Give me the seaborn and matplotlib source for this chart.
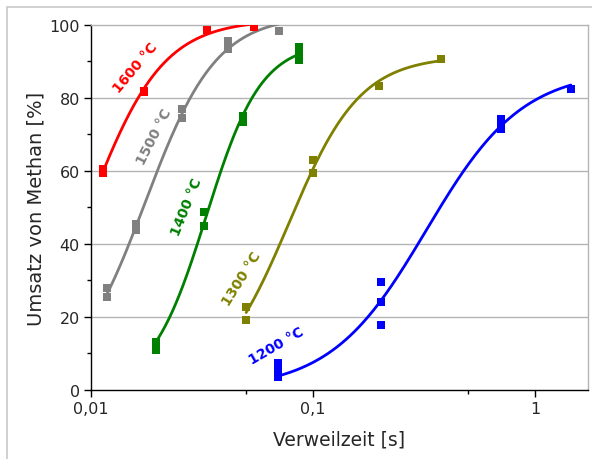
import numpy as np
import pandas as pd
import matplotlib
matplotlib.use("Agg")
import matplotlib.pyplot as plt
import matplotlib.ticker as mticker
from matplotlib.patches import Rectangle
import seaborn as sns

# ---------------------------
# Data
# ---------------------------
series_names = ["1600 °C", "1500 °C", "1400 °C", "1300 °C", "1200 °C"]

t1600 = [0.0113, 0.0113, 0.0173, 0.0333, 0.0542]
u1600 = [59.5, 60.5, 81.8, 98.6, 99.4]

t1500 = [0.0118, 0.0118, 0.016, 0.016, 0.0257, 0.0257, 0.0414, 0.0414, 0.0703]
u1500 = [25.5, 28.0, 43.8, 45.5, 74.5, 77.0, 93.5, 95.5, 98.4]

t1400 = [0.0196, 0.0196, 0.0323, 0.0323, 0.0484, 0.0484, 0.0865, 0.0865, 0.0865]
u1400 = [11.0, 13.0, 45.0, 48.8, 73.5, 75.0, 90.5, 92.5, 94.0]

t1300 = [0.05, 0.05, 0.1, 0.1, 0.198, 0.377]
u1300 = [19.2, 22.7, 59.5, 63.0, 83.3, 90.7]

t1200 = [0.0695, 0.0695, 0.0695, 0.202, 0.202, 0.202, 0.703, 0.703, 0.703, 1.45]
u1200 = [3.5, 5.2, 7.3, 17.8, 24.1, 29.6, 71.5, 73.0, 74.2, 82.5]

colors = ["#ff0000", "#808080", "#008000", "#808000", "#0000ff"]

# label positions (x, y, angle) for the curve names
label_pos = [(0.0158, 88.5, 50), (0.0192, 69.6, 63), (0.0271, 50.4, 68),
             (0.0479, 30.7, 58), (0.0681, 12.3, 30)]

rows = []
for name, t, u in zip(series_names, [t1600, t1500, t1400, t1300, t1200],
                      [u1600, u1500, u1400, u1300, u1200]):
    for a, b in zip(t, u):
        rows.append({"T": name, "t": a, "U": b})
df = pd.DataFrame(rows)


def logistic_fit(x, y):
    # simple grid search for y = A / (1 + exp(-(log10 x - u0)/s))
    lx = np.log10(x)
    y = np.asarray(y, dtype=float)
    best = None
    for u0 in np.linspace(lx.min() - 1.0, lx.max() + 0.5, 300):
        for s in np.linspace(0.05, 0.6, 120):
            f = 1.0 / (1.0 + np.exp(-(lx - u0) / s))
            A = np.sum(y * f) / np.sum(f * f)
            err = np.sum((A * f - y) ** 2)
            if best is None or err < best[0]:
                best = (err, A, u0, s)
    return best[1:]


# ---------------------------
# Plot
# ---------------------------
sns.set_style("white")
plt.rcParams['font.family'] = ['DejaVu Sans']

fig = plt.figure(figsize=(5.92, 4.60), dpi=100)
ax = fig.add_axes([0.1537, 0.15, 0.8393, 0.7935])

# outer frame of the original figure
fig.patches.append(Rectangle((7 / 592, -0.1), 1.2, (460 - 8) / 460 + 0.1,
                             transform=fig.transFigure, fill=False,
                             edgecolor="#c8c8c8", linewidth=1.2))

for y in [20, 40, 60, 80]:
    ax.axhline(y, color="#b4b4b4", linewidth=1.0, zorder=0)

for name, col in zip(series_names, colors):
    sub = df[df["T"] == name]
    A, u0, s = logistic_fit(sub["t"].values, sub["U"].values)
    xs = np.logspace(np.log10(sub["t"].min()), np.log10(sub["t"].max()), 200)
    ys = A / (1.0 + np.exp(-(np.log10(xs) - u0) / s))
    ax.plot(xs, ys, color=col, linewidth=2.0, zorder=3)

sns.scatterplot(data=df, x="t", y="U", hue="T", palette=colors, marker="s",
                s=36, linewidth=0, legend=False, ax=ax, zorder=4)

for name, col, (lx, ly, ang) in zip(series_names, colors, label_pos):
    ax.text(lx, ly, name, color=col, rotation=ang, fontsize=10, fontweight="bold",
            ha="center", va="center", rotation_mode="anchor")

ax.set_xscale("log")
ax.set_xlim(0.01, 1.73)
ax.set_ylim(0, 100)

ax.xaxis.set_major_locator(mticker.FixedLocator([0.01, 0.1, 1]))
ax.xaxis.set_major_formatter(mticker.FixedFormatter(["0,01", "0,1", "1"]))
ax.xaxis.set_minor_locator(mticker.FixedLocator([0.05, 0.5]))
ax.xaxis.set_minor_formatter(mticker.NullFormatter())
ax.yaxis.set_major_locator(mticker.MultipleLocator(20))
ax.yaxis.set_minor_locator(mticker.MultipleLocator(10))

ax.tick_params(axis="both", which="major", direction="out", length=5, width=1,
               labelsize=11.5, color="black", pad=3, bottom=True, left=True)
ax.tick_params(axis="both", which="minor", direction="out", length=3, width=1,
               color="black", bottom=True, left=True)

for side in ["left", "bottom"]:
    ax.spines[side].set_color("black")
    ax.spines[side].set_linewidth(1.0)
for side in ["top", "right"]:
    ax.spines[side].set_color("#b4b4b4")
    ax.spines[side].set_linewidth(1.0)

ax.set_xlabel("Verweilzeit [s]", fontsize=13.5, labelpad=10)
ax.set_ylabel("Umsatz von Methan [%]", fontsize=14, labelpad=3)

fig.savefig("out.png", dpi=100)
